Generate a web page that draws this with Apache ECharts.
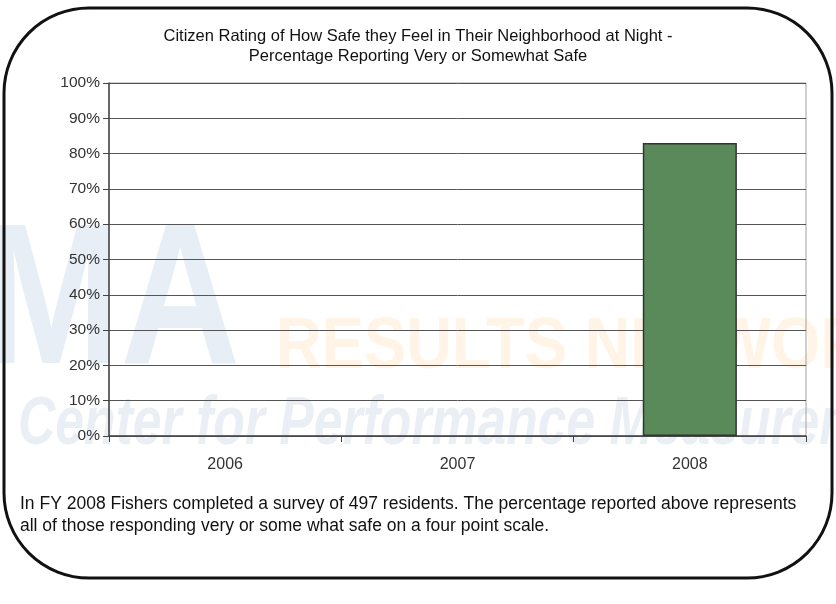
<!DOCTYPE html>
<html>
<head>
<meta charset="utf-8">
<script src="https://cdn.jsdelivr.net/npm/echarts@6/dist/echarts.min.js"></script>
<style>
  html, body { margin: 0; padding: 0; background: #fff; }
  #chart { width: 836px; height: 604px; }
</style>
</head>
<body>
<div id="chart"></div>
<script>
const years = ['2006', '2007', '2008']
const safePct = ['-', '-', 83]
const yTicks = [0, 100, 10]

const chart = echarts.init(document.getElementById('chart'))
const font = '"Liberation Sans", Arial, sans-serif'

chart.setOption({
  animation: false,
  backgroundColor: '#fff',
  title: {
    text: 'Citizen Rating of How Safe they Feel in Their Neighborhood at Night -\nPercentage Reporting Very or Somewhat Safe',
    left: 'center',
    top: 21,
    textStyle: { fontFamily: font, fontSize: 16.5, fontWeight: 'normal', color: '#111', lineHeight: 20 }
  },
  grid: { left: 109, right: 30, top: 83, bottom: 168, show: true, borderColor: '#a0a0a0', borderWidth: 1 },
  xAxis: {
    type: 'category',
    data: years,
    axisLine: { lineStyle: { color: '#444', width: 1.5 } },
    axisTick: { show: true, length: 6, lineStyle: { color: '#444' } },
    axisLabel: { color: '#333', fontFamily: font, fontSize: 16, margin: 21 }
  },
  yAxis: {
    type: 'value',
    min: yTicks[0],
    max: yTicks[1],
    interval: yTicks[2],
    axisLine: { show: true, lineStyle: { color: '#444', width: 1.5 } },
    axisTick: { show: true, length: 6, lineStyle: { color: '#444' } },
    axisLabel: { color: '#333', fontFamily: font, fontSize: 15.5, margin: 9, formatter: '{value}%' },
    splitLine: { lineStyle: { color: '#555', width: 1 } }
  },
  series: [{
    type: 'bar',
    data: safePct,
    barWidth: '40.5%',
    itemStyle: { color: '#5a8a5a', borderColor: '#333', borderWidth: 1.5 }
  }],
  graphic: [
    // faint watermark behind the plot
    { type: 'text', z: -10, x: -18, y: 208, scaleX: 0.83, style: { text: 'MA', font: 'bold 200px "Liberation Sans", Arial', fill: '#e7eef5' } },
    { type: 'text', z: -10, x: 276, y: 312, scaleX: 0.88, style: { text: 'RESULTS NETWORK', font: 'bold 72px "Liberation Sans", Arial', fill: '#fff4e6' } },
    { type: 'text', z: -10, x: 18, y: 391, scaleX: 0.76, style: { text: 'Center for Performance Measurement', font: 'italic bold 68px "Liberation Sans", Arial', fill: '#eaeff5' } },
    // rounded frame
    { type: 'rect', z: 10, shape: { x: 4, y: 8, width: 828, height: 570, r: 85 }, style: { fill: 'none', stroke: '#111', lineWidth: 3 } },
    {
      type: 'text', z: 10, x: 20, y: 493,
      style: {
        text: 'In FY 2008 Fishers completed a survey of 497 residents. The percentage reported above represents\nall of those responding very or some what safe on a four point scale.',
        font: '17.5px "Liberation Sans", Arial', fill: '#111', lineHeight: 22
      }
    }
  ]
})
</script>
</body>
</html>
